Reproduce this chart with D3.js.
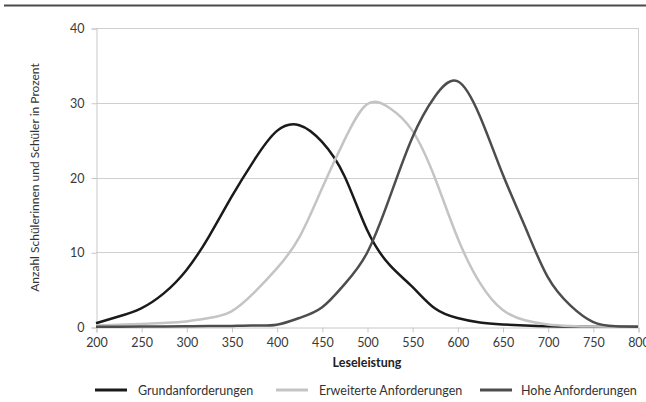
<!DOCTYPE html>
<html><head><meta charset="utf-8">
<script src="https://cdn.jsdelivr.net/npm/d3@7"></script>
<style>body{margin:0;background:#fff}svg{display:block;font-family:Lato,"Open Sans",sans-serif}</style>
</head><body><svg id="c" width="646" height="402"></svg>
<script>
const scores = [200,225,250,275,300,325,350,375,400,425,450,475,500,525,550,575,600,625,650,675,700,725,750,775,800];
const grund =  [0.5,1.4,2.5,4.5,7.6,12.1,17.4,22.3,26.2,27.0,24.8,20.2,13.0,8.3,5.4,2.5,1.2,0.6,0.35,0.2,0.1,0.07,0.05,0.03,0.02];
const erweitert = [0.2,0.3,0.4,0.55,0.75,1.2,2.1,4.6,7.8,12.0,18.5,25.0,29.8,29.3,26.3,20.0,12.0,5.9,2.3,0.9,0.35,0.15,0.06,0.03,0.02];
const hohe = [0.05,0.05,0.06,0.08,0.1,0.12,0.15,0.2,0.3,1.2,2.6,5.7,9.9,17.3,25.3,30.8,32.9,28.2,20.5,13.4,6.7,2.9,0.7,0.1,0.05];
const seriesNames = ["Grundanforderungen","Erweiterte Anforderungen","Hohe Anforderungen"];
const xTicks = [200,250,300,350,400,450,500,550,600,650,700,750,800];
const yTicks = [0,10,20,30,40];
const colors = ["#1a1a1a","#c4c4c4","#4d4d4d"];
const series = [grund, erweitert, hohe];

const svg = d3.select("#c");
const L=96, R=638, T=28, B=327;
const x = d3.scaleLinear().domain([200,800]).range([L,R]);
const y = d3.scaleLinear().domain([0,40]).range([B,T]);

// top rule
svg.append("line").attr("x1",4).attr("x2",646).attr("y1",5.5).attr("y2",5.5).attr("stroke","#4a4a4a").attr("stroke-width",2);

// gridlines
svg.append("g").selectAll("line").data(yTicks.filter(d=>d>0)).join("line")
  .attr("x1",L).attr("x2",R).attr("y1",d=>Math.round(y(d))+0.5).attr("y2",d=>Math.round(y(d))+0.5)
  .attr("stroke","#cfcfcf").attr("stroke-width",1);
// right border
svg.append("line").attr("x1",R+0.5).attr("x2",R+0.5).attr("y1",T).attr("y2",B).attr("stroke","#cfcfcf");

// y axis
const ya = svg.append("g").attr("transform",`translate(${L+0.5},0.5)`)
  .call(d3.axisLeft(y).tickValues(yTicks).tickSize(5).tickPadding(7));
ya.select(".domain").attr("stroke","#c8c8c8");
ya.selectAll(".tick line").attr("stroke","#c8c8c8");
ya.selectAll("text").attr("font-size",12.5).attr("fill","#3a3a3a").attr("font-family","Lato,sans-serif");

// x axis
const xa = svg.append("g").attr("transform",`translate(0.5,${B+0.5})`)
  .call(d3.axisBottom(x).tickValues(xTicks).tickSize(5).tickPadding(6).tickFormat(d3.format("d")));
xa.select(".domain").attr("stroke","#c8c8c8");
xa.selectAll(".tick line").attr("stroke","#c8c8c8");
xa.selectAll("text").attr("font-size",12.5).attr("fill","#3a3a3a").attr("font-family","Lato,sans-serif");

// lines
const line = d3.line().x((d,i)=>x(scores[i])).y(d=>y(d)).curve(d3.curveNatural);
series.forEach((s,k)=>{
  svg.append("path").datum(s).attr("d",line).attr("fill","none")
    .attr("stroke",colors[k]).attr("stroke-width",2.5).attr("stroke-linejoin","round");
});

// axis titles
svg.append("text").attr("x",(L+R)/2).attr("y",367).attr("text-anchor","middle")
  .attr("font-size",12.5).attr("font-weight","bold").attr("fill","#222").text("Leseleistung");
svg.append("text").attr("transform",`translate(39,${(T+B)/2}) rotate(-90)`).attr("text-anchor","middle")
  .attr("font-size",12).attr("fill","#333").text("Anzahl Schülerinnen und Schüler in Prozent");

// legend
const leg = [{x1:95,x2:127,tx:138},{x1:276,x2:308,tx:319},{x1:480,x2:512,tx:521}];
leg.forEach((p,k)=>{
  svg.append("line").attr("x1",p.x1).attr("x2",p.x2).attr("y1",390).attr("y2",390)
    .attr("stroke",colors[k]).attr("stroke-width",3);
  svg.append("text").attr("x",p.tx).attr("y",394.5).attr("font-size",12.5).attr("fill","#333").text(seriesNames[k]);
});
</script></body></html>
